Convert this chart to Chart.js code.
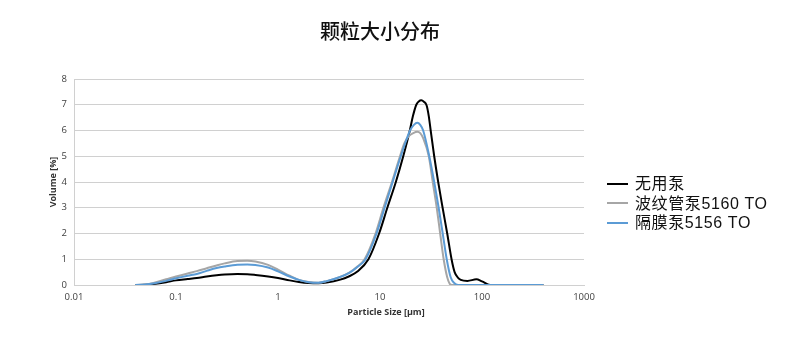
<!DOCTYPE html>
<html>
<head>
<meta charset="utf-8">
<script src="https://cdn.jsdelivr.net/npm/chart.js@4.4.1/dist/chart.umd.min.js"></script>
<style>
  html, body { margin: 0; padding: 0; background: #fff; }
  #wrap { position: relative; width: 800px; height: 341px; }
  #title {
    position: absolute; left: 0; width: 760px; top: 16px; text-align: center;
    font-family: "Noto Sans CJK SC", sans-serif; font-size: 20px; font-weight: 500; color: #111;
  }
  #xTitle {
    position: absolute; left: 286px; width: 200px; top: 305px; text-align: center;
    font-family: "Open Sans", sans-serif; font-size: 9px; font-weight: bold; color: #333;
  }
  #legend { position: absolute; left: 607px; top: 174px; }
  .row { height: 19.5px; display: flex; align-items: center; }
  .swatch { width: 21px; height: 2px; margin-right: 7px; }
  .row span {
    font-family: "Liberation Sans", "Noto Sans CJK SC", sans-serif; font-size: 16px;
    letter-spacing: 0.6px; color: #111; line-height: 19px;
  }
</style>
</head>
<body>
<div id="wrap">
  <canvas id="psd" width="800" height="341"></canvas>
  <div id="title">颗粒大小分布</div>
  <div id="xTitle">Particle Size [µm]</div>
  <div id="legend"></div>
</div>
<script>
// series names and colours
let seriesNames = ["无用泵", "波纹管泵5160 TO", "隔膜泵5156 TO"];
let seriesColors = ["#000000", "#a6a6a6", "#5b9bd5"];

// x axis decades and their labels
let xTicks = [0.01, 0.1, 1, 10, 100, 1000];
let xTickLabels = ["0.01", "0.1", "1", "10", "100", "1000"];

// 无用泵
let sizesNoPump = [0.04,0.05,0.06,0.08,0.1,0.13,0.16,0.2,0.25,0.3,0.4,0.5,0.6,0.8,1,1.3,1.6,2,2.5,3,4,5,6,7.7,9.8,11.8,14.3,16.9,19.6,21,22.7,24,25.4,26.9,28.6,30.1,31.4,34,37.2,41.1,45.6,50.3,53.9,58.3,62,72,88,100,120,200,400];
let volNoPump   = [0,0.01,0.04,0.11,0.18,0.23,0.27,0.33,0.38,0.41,0.43,0.42,0.39,0.33,0.27,0.18,0.12,0.08,0.07,0.1,0.2,0.34,0.52,1,2,3,4,5,6,6.55,7,7.13,7.17,7.12,6.98,6.55,6,5,4,3,2,1,0.5,0.28,0.2,0.16,0.22,0.14,0,0,0];

// 波纹管泵5160 TO
let sizesBellows = [0.04,0.05,0.06,0.08,0.1,0.13,0.16,0.2,0.25,0.3,0.4,0.5,0.6,0.8,1,1.3,1.6,2,2.5,3,4,5,6,7.06,9.04,10.8,13.1,15.7,17.3,19.4,21.2,23.2,24.8,26.5,30.1,32.9,36,38.9,42.1,45.6,48.2,50.9,100,200,400];
let volBellows   = [0,0.02,0.08,0.22,0.33,0.45,0.54,0.65,0.76,0.84,0.93,0.94,0.91,0.78,0.6,0.36,0.2,0.12,0.09,0.15,0.3,0.48,0.72,1,2,3,4,5,5.5,5.8,5.9,5.95,5.9,5.7,5,4,3,2,1,0.3,0.05,0,0,0,0];

// 隔膜泵5156 TO
let sizesDiaphragm = [0.04,0.05,0.06,0.08,0.1,0.13,0.16,0.2,0.25,0.3,0.4,0.5,0.6,0.8,1,1.3,1.6,2,2.5,3,4,5,6,7.22,9.25,11.1,13.3,16,19.7,21.5,23.2,24.8,26.5,30.4,34,37.6,41.2,45.1,49.3,53.3,58.3,100,200,400];
let volDiaphragm   = [0,0.02,0.06,0.16,0.26,0.36,0.43,0.55,0.66,0.72,0.79,0.8,0.78,0.68,0.53,0.33,0.2,0.11,0.09,0.15,0.3,0.47,0.7,1,2,3,4,5,6,6.22,6.3,6.22,6,5,4,3,2,1,0.3,0.08,0,0,0,0];

function points(xs, ys) {
  return xs.map((x, i) => ({ x: x, y: ys[i] }));
}

let allSeries = [
  points(sizesNoPump, volNoPump),
  points(sizesBellows, volBellows),
  points(sizesDiaphragm, volDiaphragm)
];
let drawOrder = [2, 1, 0];

let datasets = allSeries.map((d, i) => ({
  label: seriesNames[i],
  data: d,
  borderColor: seriesColors[i],
  borderWidth: 2,
  pointRadius: 0,
  fill: false,
  cubicInterpolationMode: 'monotone',
  order: drawOrder[i]
}));

// legend on the right
let legend = document.getElementById("legend");
seriesNames.forEach((name, i) => {
  let row = document.createElement("div");
  row.className = "row";
  row.innerHTML = '<div class="swatch" style="background:' + seriesColors[i] + '"></div><span>' + name + '</span>';
  legend.appendChild(row);
});

let gridColor = "#d0d0d0";

new Chart(document.getElementById("psd"), {
  type: 'line',
  data: { datasets: datasets },
  options: {
    responsive: false,
    animation: false,
    layout: { padding: { left: 40, right: 216, top: 79, bottom: 0 } },
    plugins: { legend: { display: false }, tooltip: { enabled: false } },
    scales: {
      x: {
        type: 'logarithmic',
        min: 0.01,
        max: 1000,
        afterFit: s => { s.height = 56; },
        afterBuildTicks: s => { s.ticks = xTicks.map(v => ({ value: v })); },
        grid: { display: false, drawTicks: false },
        border: { display: true, color: gridColor, width: 1 },
        ticks: {
          padding: 7,
          autoSkip: false,
          maxRotation: 0,
          color: "#404040",
          font: { family: "Open Sans", size: 9.5 },
          callback: (v) => { let k = xTicks.indexOf(v); return k >= 0 ? xTickLabels[k] : ''; }
        }
      },
      y: {
        min: 0,
        max: 8,
        afterFit: s => { s.width = 34; },
        grid: { color: gridColor, lineWidth: 1, drawTicks: false },
        border: { display: true, color: gridColor, width: 1 },
        ticks: {
          stepSize: 1,
          padding: 7,
          color: "#404040",
          font: { family: "Open Sans", size: 9.5 }
        },
        title: {
          display: true,
          text: 'Volume [%]',
          color: "#333",
          font: { family: "Open Sans", size: 9, weight: 'bold' },
          padding: { top: 8, bottom: 0 }
        }
      }
    }
  }
});
</script>
</body>
</html>
